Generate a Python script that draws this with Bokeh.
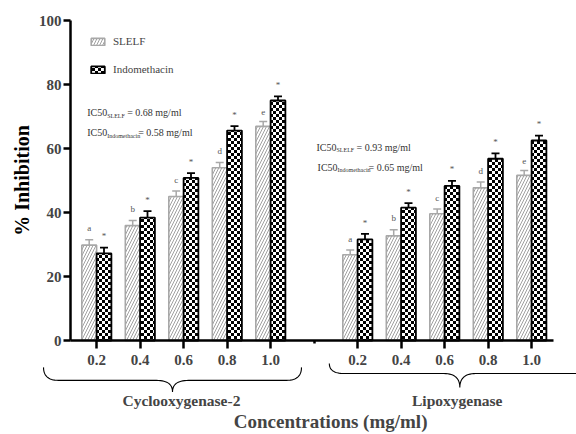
import zlib, struct, base64
import numpy as np
from bokeh.plotting import figure
from bokeh.models import (Range1d, FixedTicker, Legend, LegendItem, Whisker, TeeHead,
                          ColumnDataSource, Label, ImageURLTexture)
from bokeh.core.properties import value
from bokeh.embed import file_html
from bokeh.resources import INLINE

# ---------------- data ----------------
groups = ["Cyclooxygenase-2", "Lipoxygenase"]
concentrations = ["0.2", "0.4", "0.6", "0.8", "1.0"]
series = ["SLELF", "Indomethacin"]

cox_slelf = [29.8, 35.9, 45.0, 54.0, 66.9]
cox_slelf_sd = [1.7, 1.6, 1.7, 1.6, 1.5]
cox_indo = [27.2, 38.4, 50.8, 65.6, 75.0]
cox_indo_sd = [1.8, 2.0, 1.5, 1.4, 1.3]

lox_slelf = [26.8, 32.7, 39.6, 47.7, 51.6]
lox_slelf_sd = [1.5, 1.9, 1.5, 1.8, 1.5]
lox_indo = [31.6, 41.5, 48.3, 56.8, 62.5]
lox_indo_sd = [1.7, 1.4, 1.6, 1.7, 1.5]

letters = ["a", "b", "c", "d", "e"]
ic50_cox = ["0.68 mg/ml", "0.58 mg/ml"]
ic50_lox = ["0.93 mg/ml", "0.65 mg/ml"]
yticks = [0, 20, 40, 60, 80, 100]

FONT = "Liberation Serif"
W, H = 576, 434


def checker_png(cell):
    """Small checkerboard tile as a data URL (used as a hatch texture)."""
    size = cell * 2
    raw = b""
    for yy in range(size):
        raw += b"\x00"
        for xx in range(size):
            black = ((xx // cell) + (yy // cell)) % 2 == 0
            raw += bytes([0, 0, 0] if black else [255, 255, 255])

    def chunk(tag, data):
        return (struct.pack(">I", len(data)) + tag + data +
                struct.pack(">I", zlib.crc32(tag + data) & 0xFFFFFFFF))

    png = (b"\x89PNG\r\n\x1a\n" +
           chunk(b"IHDR", struct.pack(">IIBBBBB", size, size, 8, 2, 0, 0, 0)) +
           chunk(b"IDAT", zlib.compress(raw)) + chunk(b"IEND", b""))
    return "data:image/png;base64," + base64.b64encode(png).decode()


# ---------------- positions ----------------
n = len(concentrations)
cox_x = np.arange(1, n + 1, dtype=float)
gap_x = n + 1.0
lox_x = cox_x + n + 1
x_all = np.concatenate([cox_x, lox_x])
half = 0.17
bw = 0.34

# frame covers the whole canvas; axes sit at fixed locations inside it
KX, KY = 43.5, 3.2                 # px per data unit
x_axis_start, x_axis_end = 0.4, 11.5
x_left = x_axis_start - 70 / KX
x_right = x_left + W / KX
y_top = 100 + 20 / KY
y_bot = y_top - H / KY

s_val = np.array(cox_slelf + lox_slelf)
s_sd = np.array(cox_slelf_sd + lox_slelf_sd)
i_val = np.array(cox_indo + lox_indo)
i_sd = np.array(cox_indo_sd + lox_indo_sd)

src = ColumnDataSource(dict(
    xs=x_all - half, xi=x_all + half,
    s=s_val, s_top=s_val + s_sd, s_lab=s_val + s_sd + 2.0,
    i=i_val, i_top=i_val + i_sd, i_lab=i_val + i_sd + 2.0,
    lab=letters * 2, star=["*"] * (2 * n),
))

p = figure(width=W, height=H, x_range=Range1d(x_left, x_right), y_range=Range1d(y_bot, y_top),
           output_backend="svg", toolbar_location=None,
           min_border_left=0, min_border_right=0, min_border_top=0, min_border_bottom=0)
p.outline_line_color = None
p.grid.visible = False
p.background_fill_color = "white"
p.border_fill_color = "white"

checker = ImageURLTexture(url=checker_png(3), repetition="repeat")

GRAY = "#a8a8a8"
r1 = p.vbar(x="xs", top="s", width=bw, source=src, fill_color="white",
            line_color=GRAY, line_width=1.6,
            hatch_pattern="/", hatch_color="#a0a0a0", hatch_scale=6, hatch_weight=1.0)
r2 = p.vbar(x="xi", top="i", width=bw, source=src, fill_color="white",
            line_color="black", line_width=1.8,
            hatch_pattern=value("checker"), hatch_extra={"checker": checker},
            hatch_scale=6)

p.add_layout(Whisker(base="xs", lower="s", upper="s_top", source=src,
                     upper_head=TeeHead(size=8, line_color=GRAY, line_width=1.5),
                     lower_head=None, line_color=GRAY, line_width=1.5))
p.add_layout(Whisker(base="xi", lower="i", upper="i_top", source=src,
                     upper_head=TeeHead(size=8, line_color="black", line_width=1.8),
                     lower_head=None, line_color="black", line_width=1.8))

p.text(x="xs", y="s_lab", text="lab", source=src, text_align="center",
       text_baseline="bottom", text_font=value(FONT), text_font_size="9px",
       text_color="#555555")
p.text(x="xi", y="i_lab", text="star", source=src, text_align="center",
       text_baseline="bottom", text_font=value(FONT), text_font_size="9px",
       text_color="#555555")

# ---------------- axes ----------------
yax = p.yaxis[0]
yax.fixed_location = x_axis_start
yax.bounds = (yticks[0], yticks[-1])
yax.ticker = FixedTicker(ticks=yticks)
yax.axis_label = "% Inhibition"
yax.axis_label_text_font = FONT
yax.axis_label_text_font_style = "bold"
yax.axis_label_text_font_size = "20px"
yax.axis_label_text_color = "black"
yax.axis_label_standoff = 3
yax.major_label_text_font = FONT
yax.major_label_text_font_style = "bold"
yax.major_label_text_font_size = "15px"
yax.major_label_standoff = 2
yax.axis_line_width = 2.5
yax.major_tick_line_width = 2.5
yax.major_tick_out = 7
yax.major_tick_in = 0
yax.minor_tick_line_color = None

xax = p.xaxis[0]
xax.fixed_location = 0
xax.bounds = (x_axis_start, x_axis_end)
xax.ticker = FixedTicker(ticks=list(x_all), minor_ticks=[gap_x])
xax.major_label_overrides = {float(x): c for x, c in zip(x_all, concentrations * 2)}
xax.major_label_text_font = FONT
xax.major_label_text_font_style = "bold"
xax.major_label_text_font_size = "15px"
xax.major_label_standoff = 6
xax.axis_line_width = 2.5
xax.major_tick_line_width = 2.5
xax.major_tick_out = 8
xax.major_tick_in = 0
xax.minor_tick_line_width = 2.5
xax.minor_tick_out = 3
xax.minor_tick_in = 0

# ---------------- legend ----------------
legend = Legend(items=[LegendItem(label=series[0], renderers=[r1]),
                       LegendItem(label=series[1], renderers=[r2])],
                location=(89, 359), margin=0, padding=0,
                glyph_width=17, glyph_height=9, label_height=9,
                label_standoff=7, spacing=16,
                label_text_font=FONT, label_text_font_size="11px",
                border_line_color=None, background_fill_alpha=0)
p.add_layout(legend)

# ---------------- IC50 annotations ----------------
IC_COLOR = "#333333"

def ic50(x, y, sub, val, rest_off):
    p.add_layout(Label(x=x, y=y, text="IC50", text_font=FONT, text_font_size="10px",
                       text_color=IC_COLOR, text_baseline="middle"))
    p.add_layout(Label(x=x, y=y - 1.0, x_offset=20, text=sub, text_font=FONT,
                       text_font_size="6px", text_color=IC_COLOR, text_baseline="middle"))
    p.add_layout(Label(x=x, y=y, x_offset=rest_off, text="= " + val, text_font=FONT,
                       text_font_size="10px", text_color=IC_COLOR, text_baseline="middle"))

ic50(cox_x[0] - 0.216, 71.3, series[0], ic50_cox[0], 40)
ic50(cox_x[0] - 0.216, 64.9, series[1], ic50_cox[1], 51)
ic50(lox_x[0] - 0.945, 60.4, series[0], ic50_lox[0], 40)
ic50(lox_x[0] - 0.92, 54.2, series[1], ic50_lox[1], 51)

# ---------------- braces & group labels ----------------
def brace(x0, x1, top, d, tip, r=15.0, r2=16.0):
    Wb = (x1 - x0) * KX
    mid = Wb / 2
    t = np.linspace(0, 1, 16)
    def qb(a, c, b):
        return ((1 - t) ** 2 * a[0] + 2 * (1 - t) * t * c[0] + t ** 2 * b[0],
                (1 - t) ** 2 * a[1] + 2 * (1 - t) * t * c[1] + t ** 2 * b[1])
    segs = [qb((0, 0), (0, d), (r, d)),
            qb((mid - r2, d), (mid, d), (mid, d + tip)),
            qb((mid, d + tip), (mid, d), (mid + r2, d)),
            qb((Wb - r, d), (Wb, d), (Wb, 0))]
    px = np.concatenate([s[0] for s in segs])
    py = np.concatenate([s[1] for s in segs])
    return x0 + px / KX, top - py / KY

for (bx0, bx1, btop, bd, btip) in [(cox_x[0] - 1.22, cox_x[-1] + 0.71, -8.4, 13.0, 11.5),
                                   (lox_x[0] - 0.65, lox_x[-1] + 1.35, -7.2, 10.0, 14.0)]:
    bx, by = brace(bx0, bx1, btop, bd, btip)
    p.line(bx, by, line_color="black", line_width=1.1)

group_x = [cox_x.mean() - 0.05, lox_x.mean() + 0.29]
for gx, g in zip(group_x, groups):
    p.add_layout(Label(x=gx, y=-18.8, text=g, text_align="center", text_baseline="middle",
                       text_font=FONT, text_font_style="bold", text_font_size="15.5px"))

p.add_layout(Label(x=gap_x + 0.38, y=-25.4, text="Concentrations (mg/ml)",
                   text_align="center", text_baseline="middle",
                   text_font=FONT, text_font_style="bold", text_font_size="19px"))

open("out.html", "w").write(file_html(p, INLINE))
